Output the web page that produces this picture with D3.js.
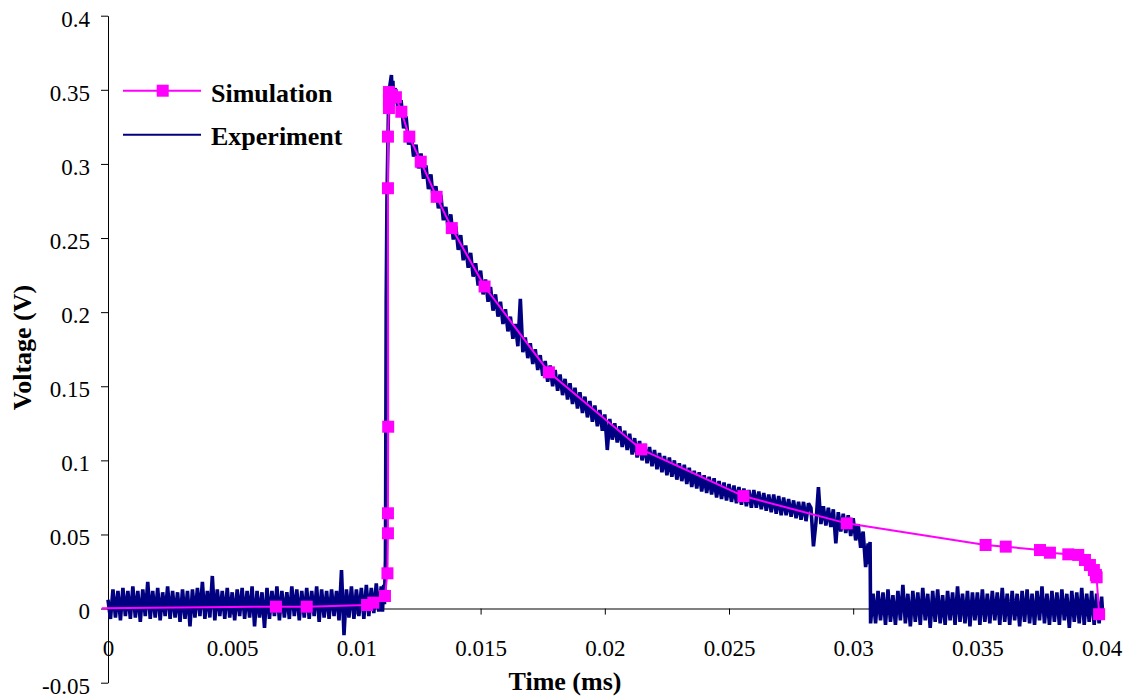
<!DOCTYPE html>
<html>
<head>
<meta charset="utf-8">
<script src="https://cdn.jsdelivr.net/npm/d3@7"></script>
<style>
  html, body { margin: 0; padding: 0; background: #fff; }
  svg { display: block; }
</style>
</head>
<body>
<div id="chart"></div>
<script>
// Simulation: time (ms), voltage (V); first point sits just left of the axis and has no marker
const simTime = [-0.00025, 0.00676, 0.0080, 0.01043, 0.01068, 0.01115, 0.01125, 0.01127, 0.01127, 0.01128,
  0.01127, 0.01127, 0.01131, 0.01131, 0.01131, 0.01143, 0.01159, 0.01181, 0.01213, 0.01259,
  0.01323, 0.01384, 0.01516, 0.01775, 0.02147, 0.02558, 0.02974, 0.03533, 0.03614, 0.03752,
  0.03792, 0.03866, 0.03906, 0.03933, 0.03953, 0.03969, 0.03977, 0.03980, 0.03990];
const simVolt = [0.0002, 0.0013, 0.0013, 0.0024, 0.0040, 0.0085, 0.0238, 0.0508, 0.0643, 0.1227,
  0.2836, 0.3184, 0.3377, 0.3430, 0.3485, 0.3465, 0.3450, 0.3352, 0.3184, 0.3015,
  0.2778, 0.2567, 0.2173, 0.1594, 0.1074, 0.0759, 0.0575, 0.0429, 0.0418, 0.0395,
  0.0377, 0.0366, 0.0362, 0.0328, 0.0294, 0.0260, 0.0227, 0.0211, -0.0038];

// Experiment trace: [time in µs, voltage in mV]
const experiment = [
  [0.0,6],[0.1,-7],[0.2,13],[0.3,-6],[0.4,12],[0.5,-8],[0.6,14],[0.7,-5],[0.8,12],[0.9,-7],
  [1.0,15],[1.1,-6],[1.2,12],[1.3,-9],[1.4,13],[1.5,-5],[1.6,18],[1.7,-7],[1.8,12],[1.9,-6],
  [2.0,14],[2.1,-8],[2.2,11],[2.3,-5],[2.4,15],[2.5,-7],[2.6,12],[2.7,-6],[2.8,11],[2.9,-9],
  [3.0,13],[3.1,-7],[3.2,12],[3.3,-12],[3.4,13],[3.5,-6],[3.6,14],[3.7,-5],[3.8,18],[3.9,-7],
  [4.0,12],[4.1,-6],[4.2,22],[4.3,-8],[4.4,13],[4.5,-5],[4.6,12],[4.7,-7],[4.8,14],[4.9,-6],
  [5.0,11],[5.1,-8],[5.2,13],[5.3,-5],[5.4,14],[5.5,-7],[5.6,12],[5.7,-6],[5.8,15],[5.9,-12],
  [6.0,12],[6.1,-6],[6.2,11],[6.3,-13],[6.4,14],[6.5,-7],[6.6,12],[6.7,-5],[6.8,15],[6.9,-8],
  [7.0,12],[7.1,-6],[7.2,11],[7.3,-7],[7.4,15],[7.5,-5],[7.6,13],[7.7,-8],[7.8,12],[7.9,-6],
  [8.0,14],[8.1,-7],[8.2,12],[8.3,-5],[8.4,15],[8.5,-9],[8.6,13],[8.7,-6],[8.8,12],[8.9,-7],
  [9.0,13],[9.1,-5],[9.2,12],[9.3,-8],[9.4,26],[9.5,-18],[9.6,13],[9.7,-6],[9.8,15],[9.9,-7],
  [10.0,13],[10.1,-5],[10.2,14],[10.3,-7],[10.4,16],[10.5,-5],[10.6,14],[10.7,-3],[10.8,17],[10.9,-2],
  [11.0,15],[11.05,-2],[11.1,16],[11.13,3],[11.15,20],[11.17,33],[11.18,87],[11.2,208],[11.23,276],[11.29,336],
  [11.35,353],[11.41,360],[11.44,347],[11.47,356],[11.5,341],[11.55,351],
  [11.6,349],[11.7,332],[11.8,343],[11.9,324],[12.0,332],[12.1,313],[12.2,321],[12.3,305],[12.4,313],[12.5,297],
  [12.6,307],[12.7,290],[12.8,299],[12.9,283],[13.0,293],[13.1,275],[13.2,285],[13.3,270],[13.4,279],[13.5,262],
  [13.6,271],[13.7,255],[13.8,266],[13.9,249],[14.0,258],[14.1,242],[14.2,252],[14.3,235],[14.4,245],[14.5,230],
  [14.6,240],[14.7,224],[14.8,233],[14.9,218],[15.0,228],[15.1,212],[15.2,222],[15.3,207],[15.4,217],[15.5,201],
  [15.6,212],[15.7,197],[15.8,207],[15.9,192],[16.0,202],[16.1,187],[16.2,197],[16.3,182],[16.4,192],[16.5,177],
  [16.6,209],[16.7,173],[16.8,183],[16.9,169],[17.0,179],[17.1,165],[17.2,175],[17.3,161],[17.4,171],[17.5,157],
  [17.6,167],[17.7,153],[17.8,164],[17.9,150],[18.0,161],[18.1,147],[18.2,158],[18.3,144],[18.4,155],[18.5,141],
  [18.6,152],[18.7,138],[18.8,149],[18.9,135],[19.0,146],[19.1,132],[19.2,143],[19.3,129],[19.4,140],[19.5,126],
  [19.6,137],[19.7,123],[19.8,134],[19.9,120],[20.0,131],[20.1,107],[20.2,128],[20.3,114],[20.4,125],[20.5,112],
  [20.6,123],[20.7,109],[20.8,120],[20.9,107],[21.0,118],[21.1,104],[21.2,115],[21.3,102],[21.4,113],[21.5,100],
  [21.6,111],[21.7,98],[21.8,109],[21.9,96],[22.0,107],[22.1,94],[22.2,105],[22.3,92],[22.4,103],[22.5,90],
  [22.6,102],[22.7,89],[22.8,100],[22.9,87],[23.0,98],[23.1,86],[23.2,97],[23.3,84],[23.4,95],[23.5,82],
  [23.6,93],[23.7,81],[23.8,92],[23.9,79],[24.0,90],[24.1,78],[24.2,89],[24.3,77],[24.4,88],[24.5,75],
  [24.6,86],[24.7,74],[24.8,85],[24.9,73],[25.0,84],[25.1,72],[25.2,83],[25.3,71],[25.4,82],[25.5,70],
  [25.6,81],[25.7,69],[25.8,80],[25.9,68],[26.0,80],[26.1,68],[26.2,79],[26.3,67],[26.4,78],[26.5,66],
  [26.6,77],[26.7,65],[26.8,77],[26.9,64],[27.0,76],[27.1,63],[27.2,75],[27.3,63],[27.4,74],[27.5,62],
  [27.6,73],[27.7,61],[27.8,72],[27.9,60],[28.0,72],[28.1,59],[28.2,71],[28.3,68],[28.4,42],[28.5,58],
  [28.6,82],[28.7,57],[28.8,69],[28.9,56],[29.0,68],[29.1,55],[29.2,67],[29.3,44],[29.4,65],[29.5,52],
  [29.6,64],[29.7,51],[29.8,63],[29.9,49],[30.0,61],[30.1,46],[30.2,57],[30.3,41],[30.4,52],[30.5,28],
  [30.6,44],[30.65,30],[30.68,45],[30.7,-10],
  [30.8,10],[30.9,-10],[31.0,12],[31.1,-8],[31.2,11],[31.3,-11],[31.4,13],[31.5,-9],[31.6,9],[31.7,-11],
  [31.8,12],[31.9,-8],[32.0,16],[32.1,-10],[32.2,10],[32.3,-12],[32.4,12],[32.5,-9],[32.6,11],[32.7,-11],
  [32.8,14],[32.9,-8],[33.0,10],[33.1,-13],[33.2,12],[33.3,-9],[33.4,13],[33.5,-10],[33.6,9],[33.7,-11],
  [33.8,12],[33.9,-8],[34.0,11],[34.1,-11],[34.2,15],[34.3,-9],[34.4,10],[34.5,-10],[34.6,12],[34.7,-12],
  [34.8,11],[34.9,-8],[35.0,11],[35.1,-11],[35.2,13],[35.3,-9],[35.4,10],[35.5,-10],[35.6,12],[35.7,-8],
  [35.8,11],[35.9,-11],[36.0,14],[36.1,-9],[36.2,10],[36.3,-11],[36.4,12],[36.5,-8],[36.6,10],[36.7,-12],
  [36.8,12],[36.9,-9],[37.0,13],[37.1,-10],[37.2,10],[37.3,-11],[37.4,12],[37.5,-8],[37.6,15],[37.7,-10],
  [37.8,10],[37.9,-11],[38.0,12],[38.1,-9],[38.2,11],[38.3,-11],[38.4,13],[38.5,-8],[38.6,10],[38.7,-13],
  [38.8,12],[38.9,-9],[39.0,11],[39.1,-10],[39.2,14],[39.3,-11],[39.4,10],[39.5,-9],[39.6,12],[39.7,-11],
  [39.8,10],[39.9,-10],[40.0,8],[40.05,-5]
];

const xTicks = [0, 0.005, 0.01, 0.015, 0.02, 0.025, 0.03, 0.035, 0.04];
const xTickLabels = ["0", "0.005", "0.01", "0.015", "0.02", "0.025", "0.03", "0.035", "0.04"];
const yTicks = [-0.05, 0, 0.05, 0.1, 0.15, 0.2, 0.25, 0.3, 0.35, 0.4];
const yTickLabels = ["-0.05", "0", "0.05", "0.1", "0.15", "0.2", "0.25", "0.3", "0.35", "0.4"];
const seriesNames = ["Simulation", "Experiment"];

const width = 1128;
const height = 698;
const simColor = "#ff00ff";
const expColor = "#000080";
const serif = "Liberation Serif";

const svg = d3.select("#chart").append("svg")
  .attr("width", width)
  .attr("height", height);

const x = d3.scaleLinear().domain([0, 0.04]).range([108, 1101.6]);
const y = d3.scaleLinear().domain([-0.05, 0.4]).range([682.7, 15.7]);

function styleTicks(g) {
  g.attr("font-family", null).attr("font-size", null);
  g.selectAll(".tick line").attr("stroke", "#000");
  g.selectAll(".tick text")
    .style("font-family", serif)
    .style("font-size", "23px")
    .attr("fill", "#000");
}

// y axis on the left edge of the plot
const yAxis = svg.append("g")
  .attr("transform", `translate(${x(0)},0)`)
  .call(d3.axisLeft(y).tickValues(yTicks)
    .tickFormat((d, i) => yTickLabels[i])
    .tickSize(7).tickSizeOuter(0).tickPadding(11))
  .call(styleTicks);
yAxis.select(".domain").attr("stroke", "#000");
yAxis.selectAll(".tick text").attr("dy", "0.45em");

// x axis crosses at zero volts
const xAxis = svg.append("g")
  .attr("transform", `translate(0,${y(0)})`)
  .call(d3.axisBottom(x).tickValues(xTicks)
    .tickFormat((d, i) => xTickLabels[i])
    .tickSize(6).tickSizeOuter(0).tickPadding(25))
  .call(styleTicks);
xAxis.select(".domain").attr("stroke", "#808080").attr("stroke-width", 2);

const expLine = d3.line()
  .x((d) => x(d[0] / 1000))
  .y((d) => y(d[1] / 1000));
svg.append("path")
  .datum(experiment)
  .attr("fill", "none")
  .attr("stroke", expColor)
  .attr("stroke-width", 3.6)
  .attr("stroke-linejoin", "bevel")
  .attr("d", expLine);

const simPoints = simTime.map((t, i) => ({ t, v: simVolt[i] }));
const simLine = d3.line().x((d) => x(d.t)).y((d) => y(d.v));
svg.append("path")
  .datum(simPoints)
  .attr("fill", "none")
  .attr("stroke", simColor)
  .attr("stroke-width", 2)
  .attr("d", simLine);

const marker = 12;
svg.selectAll(".sim-marker")
  .data(simPoints.filter((d) => d.t >= 0))
  .join("rect")
  .attr("class", "sim-marker")
  .attr("x", (d) => x(d.t) - marker / 2)
  .attr("y", (d) => y(d.v) - marker / 2)
  .attr("width", marker)
  .attr("height", marker)
  .attr("fill", simColor);

// axis titles
svg.append("text")
  .attr("x", 565)
  .attr("y", 690)
  .attr("text-anchor", "middle")
  .style("font-family", serif).style("font-size", "26px").style("font-weight", "bold")
  .text("Time (ms)");
svg.append("text")
  .attr("transform", "translate(31,347.5) rotate(-90)")
  .attr("text-anchor", "middle")
  .style("font-family", serif).style("font-size", "26px").style("font-weight", "bold")
  .text("Voltage (V)");

// legend
const legend = svg.append("g");
legend.append("line")
  .attr("x1", 123).attr("x2", 201).attr("y1", 90.7).attr("y2", 90.7)
  .attr("stroke", simColor).attr("stroke-width", 2);
legend.append("rect")
  .attr("x", 162.7 - marker / 2).attr("y", 90.7 - marker / 2)
  .attr("width", marker).attr("height", marker)
  .attr("fill", simColor);
legend.append("line")
  .attr("x1", 123).attr("x2", 201).attr("y1", 134.7).attr("y2", 134.7)
  .attr("stroke", expColor).attr("stroke-width", 2);
legend.selectAll(".legend-label")
  .data(seriesNames)
  .join("text")
  .attr("class", "legend-label")
  .attr("x", 211)
  .attr("y", (d, i) => 101.7 + i * 43.6)
  .style("font-family", serif).style("font-size", "26px").style("font-weight", "bold")
  .text((d) => d);
</script>
</body>
</html>
